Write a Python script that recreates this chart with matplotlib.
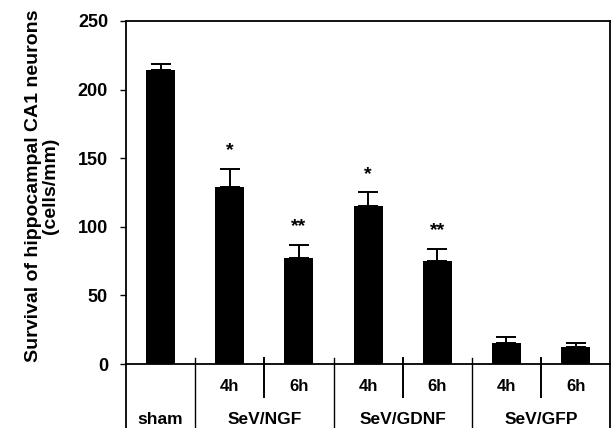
import matplotlib.pyplot as plt
from matplotlib.transforms import blended_transform_factory

plt.rcParams["font.family"] = ["Liberation Sans", "DejaVu Sans"]
plt.rcParams["font.weight"] = "bold"

# Survival of CA1 neurons per group
groups = ["sham", "SeV/NGF", "SeV/GDNF", "SeV/GFP"]
times = ["", "4h", "6h", "4h", "6h", "4h", "6h"]
values = [214, 129, 77, 115, 75, 15, 12.5]
errors = [5, 13, 10, 10, 9, 5, 2.5]
signif = ["", "*", "**", "*", "**", "", ""]

fig = plt.figure(figsize=(6.12, 4.28), dpi=100)
ax = fig.add_axes([0.206, 0.1495, 0.791, 0.8015])

x = list(range(len(values)))
ax.bar(x, values, width=0.42, color="black", zorder=2)
ax.errorbar(x, values, yerr=[[0] * len(values), errors], fmt="none",
            ecolor="black", elinewidth=1.4, capsize=7, capthick=1.4, zorder=3)
for xi, v, e, s in zip(x, values, errors, signif):
    if s:
        ax.text(xi, v + e + 7, s, ha="center", va="bottom", fontsize=14,
                fontweight="bold")

ax.set_xlim(-0.5, len(values) - 0.5)
ax.set_ylim(0, 250)
ax.set_yticks([0, 50, 100, 150, 200, 250])
ax.tick_params(axis="y", direction="out", length=4, width=1, labelsize=13,
               pad=9)
ax.tick_params(axis="x", bottom=False, labelbottom=False)
for lab in ax.get_yticklabels():
    lab.set_fontweight("bold")
for sp in ax.spines.values():
    sp.set_linewidth(1.3)

ax.set_ylabel("Survival of hippocampal CA1 neurons\n(cells/mm)", fontsize=14,
              fontweight="bold", linespacing=1.0)
ax.yaxis.set_label_coords(-0.138, 0.52)

# Category table below the axis
tr = blended_transform_factory(ax.transData, ax.transAxes)
bottom = -0.19
for xl in [-0.5, len(values) - 0.5]:
    ax.plot([xl, xl], [0, bottom], transform=tr, color="black", lw=1.3,
            clip_on=False)
for xd in [0.5, 2.5, 4.5]:
    ax.plot([xd, xd], [0.018, bottom], transform=tr, color="black", lw=1.0,
            clip_on=False)
for xd in [1.5, 3.5, 5.5]:
    ax.plot([xd, xd], [0.018, -0.096], transform=tr, color="black", lw=1.4,
            clip_on=False)
for xi, t in zip(x, times):
    if t:
        ax.text(xi, -0.067, t, transform=tr, ha="center", va="center",
                fontsize=12, fontweight="bold")
group_centers = [0, 1.5, 3.5, 5.5]
for gc, g in zip(group_centers, groups):
    ax.text(gc, -0.163, g, transform=tr, ha="center", va="center",
            fontsize=12.5, fontweight="bold")

fig.savefig("out.png", dpi=100)
